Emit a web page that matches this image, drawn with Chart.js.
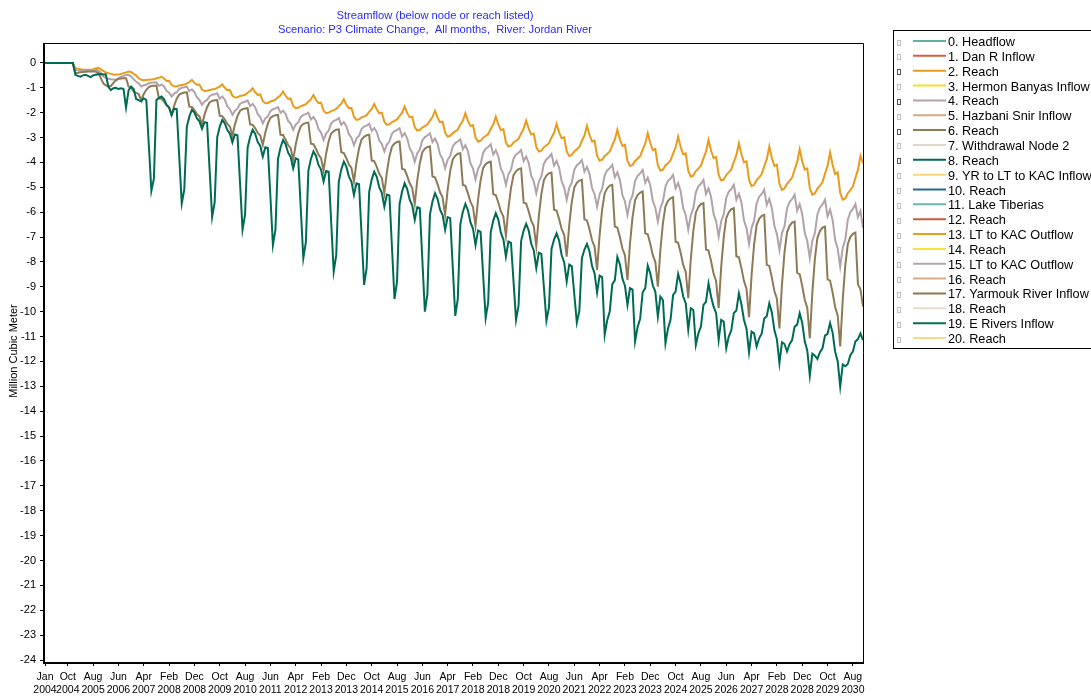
<!DOCTYPE html>
<html>
<head>
<meta charset="utf-8">
<title>Streamflow - Jordan River</title>
<script src="https://cdn.jsdelivr.net/npm/chart.js@4.4.0/dist/chart.umd.min.js"></script>
<style>
    html, body { margin: 0; padding: 0; background: #fff; }
    canvas { display: block; }
</style>
</head>
<body>
<canvas id="chart" width="1091" height="698"></canvas>
<script>
// Monthly values, Jan 2004 .. Dec 2030 (one row per year)
const reach2 = [
    0, 0, 0, 0, 0, 0, 0, 0, 0, 0, 0, 0,
    -0.21, -0.23, -0.25, -0.27, -0.28, -0.28, -0.27, -0.25, -0.22, -0.2, -0.25, -0.32,
    -0.38, -0.41, -0.44, -0.47, -0.48, -0.47, -0.44, -0.42, -0.38, -0.35, -0.36, -0.44,
    -0.5, -0.62, -0.68, -0.7, -0.69, -0.68, -0.67, -0.66, -0.62, -0.6, -0.55, -0.63,
    -0.73, -0.72, -0.89, -0.95, -0.94, -0.91, -0.89, -0.87, -0.82, -0.77, -0.68, -0.8,
    -0.88, -0.87, -1.07, -1.13, -1.12, -1.09, -1.07, -1.05, -1.0, -0.95, -0.86, -1.0,
    -1.1, -1.08, -1.32, -1.39, -1.38, -1.33, -1.31, -1.28, -1.2, -1.14, -1.02, -1.18,
    -1.29, -1.27, -1.54, -1.62, -1.61, -1.55, -1.52, -1.48, -1.38, -1.3, -1.15, -1.32,
    -1.45, -1.43, -1.73, -1.82, -1.8, -1.74, -1.7, -1.66, -1.56, -1.46, -1.29, -1.48,
    -1.62, -1.6, -1.92, -2.02, -2.0, -1.94, -1.9, -1.85, -1.74, -1.64, -1.46, -1.68,
    -1.83, -1.81, -2.17, -2.29, -2.27, -2.19, -2.15, -2.1, -1.97, -1.85, -1.65, -1.87,
    -2.03, -2.0, -2.37, -2.49, -2.47, -2.38, -2.33, -2.27, -2.13, -2.0, -1.76, -2.01,
    -2.19, -2.16, -2.59, -2.72, -2.7, -2.6, -2.54, -2.48, -2.32, -2.18, -1.92, -2.19,
    -2.39, -2.36, -2.81, -2.96, -2.93, -2.82, -2.75, -2.68, -2.49, -2.32, -2.02, -2.32,
    -2.53, -2.5, -3.0, -3.16, -3.13, -3.01, -2.94, -2.86, -2.66, -2.48, -2.16, -2.47,
    -2.7, -2.66, -3.19, -3.36, -3.33, -3.2, -3.13, -3.05, -2.84, -2.65, -2.32, -2.64,
    -2.88, -2.84, -3.39, -3.56, -3.53, -3.39, -3.32, -3.23, -3.0, -2.81, -2.45, -2.79,
    -3.03, -2.99, -3.56, -3.74, -3.7, -3.56, -3.47, -3.38, -3.13, -2.92, -2.53, -2.89,
    -3.16, -3.12, -3.73, -3.93, -3.89, -3.74, -3.66, -3.56, -3.31, -3.09, -2.69, -3.07,
    -3.34, -3.3, -3.94, -4.14, -4.1, -3.94, -3.85, -3.75, -3.49, -3.25, -2.83, -3.22,
    -3.51, -3.46, -4.12, -4.33, -4.29, -4.12, -4.03, -3.92, -3.65, -3.4, -2.96, -3.38,
    -3.68, -3.64, -4.34, -4.57, -4.53, -4.35, -4.25, -4.13, -3.84, -3.57, -3.1, -3.52,
    -3.83, -3.78, -4.5, -4.73, -4.69, -4.51, -4.4, -4.28, -3.98, -3.71, -3.23, -3.68,
    -4.0, -3.95, -4.71, -4.95, -4.9, -4.71, -4.6, -4.47, -4.16, -3.87, -3.36, -3.81,
    -4.14, -4.09, -4.86, -5.1, -5.05, -4.86, -4.74, -4.61, -4.29, -3.99, -3.47, -3.95,
    -4.29, -4.24, -5.04, -5.3, -5.25, -5.05, -4.93, -4.79, -4.45, -4.14, -3.6, -4.09,
    -4.46, -4.4, -5.23, -5.5, -5.45, -5.24, -5.11, -4.97, -4.62, -4.3, -3.74, -4.03
];

const reach4 = [
    0, 0, 0, 0, 0, 0, 0, 0, 0, 0, 0, 0,
    -0.28, -0.3, -0.31, -0.32, -0.32, -0.31, -0.3, -0.29, -0.28, -0.3, -0.38, -0.55,
    -0.6, -0.64, -0.66, -0.67, -0.68, -0.62, -0.56, -0.52, -0.49, -0.48, -0.55, -0.65,
    -0.76, -0.82, -0.95, -0.9, -0.88, -0.82, -0.8, -0.79, -0.78, -0.92, -0.87, -0.95,
    -1.12, -1.2, -1.35, -1.23, -1.18, -1.05, -1.0, -0.98, -0.95, -1.14, -1.06, -1.17,
    -1.39, -1.49, -1.69, -1.55, -1.49, -1.34, -1.28, -1.26, -1.22, -1.44, -1.35, -1.48,
    -1.74, -1.86, -2.09, -1.92, -1.84, -1.65, -1.59, -1.56, -1.51, -1.74, -1.65, -1.79,
    -2.06, -2.18, -2.43, -2.23, -2.15, -1.94, -1.86, -1.83, -1.78, -2.01, -1.92, -2.05,
    -2.33, -2.44, -2.69, -2.48, -2.39, -2.17, -2.09, -2.06, -2.0, -2.28, -2.17, -2.33,
    -2.66, -2.8, -3.1, -2.84, -2.72, -2.44, -2.33, -2.29, -2.22, -2.49, -2.38, -2.54,
    -2.87, -3.01, -3.3, -3.04, -2.93, -2.66, -2.56, -2.52, -2.45, -2.73, -2.62, -2.78,
    -3.12, -3.26, -3.56, -3.28, -3.16, -2.85, -2.74, -2.7, -2.62, -2.96, -2.82, -3.03,
    -3.43, -3.61, -3.97, -3.63, -3.48, -3.11, -2.98, -2.92, -2.83, -3.18, -3.04, -3.25,
    -3.68, -3.86, -4.24, -3.89, -3.74, -3.36, -3.22, -3.16, -3.07, -3.47, -3.31, -3.55,
    -4.04, -4.25, -4.68, -4.26, -4.07, -3.62, -3.45, -3.38, -3.27, -3.68, -3.51, -3.76,
    -4.25, -4.46, -4.9, -4.48, -4.3, -3.85, -3.68, -3.61, -3.5, -3.94, -3.76, -4.02,
    -4.54, -4.77, -5.24, -4.77, -4.56, -4.05, -3.87, -3.79, -3.66, -4.12, -3.94, -4.21,
    -4.76, -5.0, -5.5, -5.02, -4.81, -4.3, -4.11, -4.03, -3.9, -4.37, -4.18, -4.46,
    -5.03, -5.27, -5.78, -5.28, -5.06, -4.52, -4.32, -4.23, -4.1, -4.6, -4.4, -4.7,
    -5.31, -5.57, -6.11, -5.57, -5.33, -4.75, -4.54, -4.44, -4.3, -4.82, -4.61, -4.92,
    -5.55, -5.82, -6.38, -5.82, -5.57, -4.97, -4.74, -4.65, -4.5, -5.05, -4.83, -5.16,
    -5.83, -6.11, -6.71, -6.11, -5.85, -5.2, -4.96, -4.86, -4.7, -5.27, -5.04, -5.38,
    -6.07, -6.36, -6.98, -6.36, -6.09, -5.42, -5.17, -5.07, -4.9, -5.5, -5.26, -5.61,
    -6.33, -6.64, -7.28, -6.63, -6.34, -5.64, -5.38, -5.27, -5.1, -5.71, -5.46, -5.83,
    -6.55, -6.87, -7.52, -6.85, -6.57, -5.85, -5.59, -5.48, -5.3, -5.94, -5.68, -6.07,
    -6.83, -7.16, -7.85, -7.14, -6.84, -6.09, -5.81, -5.69, -5.5, -6.17, -5.9, -6.31,
    -7.11, -7.46, -8.19, -7.43, -7.11, -6.3, -6.0, -5.87, -5.67, -6.2, -5.95, -6.64
];

const reach6 = [
    0, 0, 0, 0, 0, 0, 0, 0, 0, 0, 0, 0,
    -0.41, -0.4, -0.38, -0.37, -0.36, -0.35, -0.35, -0.34, -0.35, -0.4, -0.6, -0.82,
    -0.9, -0.95, -0.93, -0.8, -0.7, -0.64, -0.63, -0.62, -0.62, -0.95, -1.0, -1.15,
    -1.2, -1.26, -1.49, -1.25, -1.08, -0.97, -0.93, -0.92, -0.91, -1.43, -1.44, -1.56,
    -1.7, -1.78, -2.09, -1.72, -1.44, -1.27, -1.22, -1.19, -1.18, -1.76, -1.77, -1.9,
    -2.06, -2.15, -2.49, -2.08, -1.78, -1.59, -1.53, -1.5, -1.49, -2.12, -2.14, -2.28,
    -2.45, -2.56, -2.93, -2.47, -2.14, -1.93, -1.86, -1.83, -1.82, -2.47, -2.49, -2.63,
    -2.81, -2.92, -3.3, -2.8, -2.44, -2.21, -2.14, -2.1, -2.09, -2.89, -2.9, -3.09,
    -3.3, -3.43, -3.9, -3.28, -2.83, -2.55, -2.46, -2.41, -2.4, -3.25, -3.27, -3.46,
    -3.69, -3.83, -4.33, -3.65, -3.15, -2.84, -2.74, -2.69, -2.67, -3.59, -3.62, -3.83,
    -4.08, -4.22, -4.77, -4.0, -3.44, -3.08, -2.97, -2.91, -2.89, -3.92, -3.95, -4.18,
    -4.46, -4.63, -5.24, -4.39, -3.76, -3.37, -3.24, -3.18, -3.16, -4.26, -4.29, -4.54,
    -4.84, -5.02, -5.67, -4.72, -4.03, -3.59, -3.45, -3.38, -3.36, -4.57, -4.6, -4.87,
    -5.2, -5.4, -6.11, -5.09, -4.35, -3.88, -3.73, -3.65, -3.63, -4.91, -4.94, -5.24,
    -5.59, -5.79, -6.55, -5.49, -4.72, -4.23, -4.07, -4.0, -3.97, -5.28, -5.31, -5.61,
    -5.97, -6.18, -6.95, -5.84, -5.03, -4.51, -4.35, -4.27, -4.24, -5.62, -5.65, -5.97,
    -6.34, -6.56, -7.38, -6.16, -5.27, -4.71, -4.53, -4.44, -4.41, -5.9, -5.93, -6.27,
    -6.67, -6.91, -7.79, -6.52, -5.6, -5.01, -4.82, -4.73, -4.7, -6.29, -6.33, -6.69,
    -7.13, -7.38, -8.32, -6.92, -5.89, -5.24, -5.04, -4.93, -4.9, -6.58, -6.62, -7.0,
    -7.46, -7.73, -8.72, -7.26, -6.2, -5.52, -5.31, -5.21, -5.17, -6.85, -6.89, -7.27,
    -7.73, -8.0, -8.99, -7.52, -6.44, -5.76, -5.54, -5.44, -5.4, -7.19, -7.23, -7.63,
    -8.12, -8.4, -9.46, -7.89, -6.75, -6.02, -5.79, -5.68, -5.64, -7.5, -7.54, -7.96,
    -8.47, -8.76, -9.86, -8.21, -7.01, -6.24, -6.0, -5.88, -5.84, -7.77, -7.81, -8.25,
    -8.77, -9.08, -10.22, -8.53, -7.3, -6.52, -6.27, -6.15, -6.11, -8.12, -8.16, -8.62,
    -9.17, -9.48, -10.67, -8.91, -7.62, -6.81, -6.55, -6.42, -6.38, -8.44, -8.49, -8.96,
    -9.52, -9.85, -11.07, -9.23, -7.88, -7.03, -6.76, -6.62, -6.58, -8.7, -8.75, -9.23,
    -9.81, -10.15, -11.4, -9.52, -8.15, -7.28, -7.0, -6.87, -6.82, -8.9, -9.1, -9.8
];

const reach8 = [
    0, 0, 0, 0, 0, 0, 0, 0, 0, 0, 0, 0,
    -0.48, -0.52, -0.55, -0.5, -0.48, -0.52, -0.57, -0.5, -0.48, -0.46, -0.45, -0.47,
    -0.46, -0.95, -1.09, -1.02, -1.0, -1.05, -1.02, -1.05, -1.8, -1.1, -0.95, -1.05,
    -1.45, -1.5, -1.55, -1.42, -1.49, -3.3, -5.15, -4.65, -1.49, -1.4, -1.35, -1.45,
    -1.69, -1.8, -2.1, -1.84, -1.86, -3.76, -5.65, -5.09, -2.57, -2.15, -1.89, -2.0,
    -2.23, -2.35, -2.65, -2.38, -2.41, -4.3, -6.2, -5.61, -2.99, -2.56, -2.29, -2.43,
    -2.7, -2.84, -3.2, -2.88, -2.91, -4.8, -6.7, -6.1, -3.41, -2.97, -2.69, -2.85,
    -3.18, -3.34, -3.77, -3.39, -3.42, -5.37, -7.32, -6.69, -3.86, -3.4, -3.1, -3.27,
    -3.61, -3.78, -4.24, -3.84, -3.88, -5.87, -7.85, -7.21, -4.33, -3.86, -3.56, -3.74,
    -4.1, -4.29, -4.77, -4.35, -4.38, -6.39, -8.39, -7.73, -4.77, -4.28, -3.97, -4.17,
    -4.57, -4.77, -5.31, -4.84, -4.88, -6.9, -8.92, -8.24, -5.19, -4.69, -4.37, -4.58,
    -5.0, -5.22, -5.78, -5.29, -5.33, -7.41, -9.49, -8.79, -5.68, -5.17, -4.84, -5.06,
    -5.5, -5.72, -6.31, -5.8, -5.84, -7.92, -10.0, -9.29, -6.1, -5.57, -5.24, -5.46,
    -5.9, -6.12, -6.71, -6.2, -6.24, -8.2, -10.17, -9.49, -6.48, -5.98, -5.67, -5.92,
    -6.41, -6.66, -7.32, -6.74, -6.79, -8.52, -10.26, -9.63, -6.8, -6.34, -6.04, -6.3,
    -6.83, -7.09, -7.79, -7.18, -7.23, -8.78, -10.33, -9.75, -7.16, -6.74, -6.47, -6.74,
    -7.27, -7.54, -8.25, -7.63, -7.68, -9.02, -10.36, -9.83, -7.48, -7.1, -6.85, -7.14,
    -7.72, -8.01, -8.79, -8.11, -8.17, -9.3, -10.44, -9.97, -7.85, -7.5, -7.28, -7.57,
    -8.16, -8.45, -9.23, -8.55, -8.61, -10.93, -10.34, -9.99, -8.9, -8.74, -7.8, -8.09,
    -8.67, -8.96, -9.73, -9.05, -9.11, -11.2, -10.62, -10.28, -9.22, -9.06, -8.15, -8.46,
    -8.95, -9.19, -10.2, -9.39, -9.53, -11.27, -10.67, -10.33, -9.33, -9.19, -8.48, -8.86,
    -9.39, -9.66, -10.73, -9.86, -9.93, -11.34, -10.87, -10.6, -9.73, -9.6, -8.86, -9.39,
    -9.8, -10.06, -11.14, -10.33, -10.4, -11.47, -11.0, -10.75, -10.05, -9.95, -9.26, -9.7,
    -10.33, -10.68, -11.63, -10.8, -10.87, -11.4, -11.07, -10.88, -10.27, -10.18, -9.66, -10.02,
    -10.74, -11.11, -12.07, -11.23, -11.3, -11.6, -11.31, -11.14, -10.6, -10.52, -10.06, -10.44,
    -11.19, -11.57, -12.57, -11.69, -11.77, -11.9, -11.63, -11.47, -10.96, -10.89, -10.46, -10.84,
    -11.61, -11.99, -13.01, -12.12, -12.19, -12.1, -11.75, -11.6, -11.2, -11.1, -10.87, -11.14
];

const seriesNames = [
    '0. Headflow', '1. Dan R Inflow', '2. Reach', '3. Hermon Banyas Inflow', '4. Reach',
    '5. Hazbani Snir Inflow', '6. Reach', '7. Withdrawal Node 2', '8. Reach',
    '9. YR to LT to KAC Inflow', '10. Reach', '11. Lake Tiberias', '12. Reach',
    '13. LT to KAC Outflow', '14. Reach', '15. LT to KAC Outflow', '16. Reach',
    '17. Yarmouk River Inflow', '18. Reach', '19. E Rivers Inflow', '20. Reach'
];
const seriesColors = [
    '#5fb0a6', '#d2603c', '#e99b1c', '#f4e02a', '#b3a3a9',
    '#d2a985', '#8e7a55', '#e2d7c6', '#006b54',
    '#f6d775', '#1d6c8a', '#64bab2', '#c95c3c',
    '#e89c18', '#f4e63a', '#b4a6b0', '#d6ad8a',
    '#8d7752', '#e6ddcf', '#02705a', '#f7d985'
];
// only these rows carry a line in the picture
const seriesValues = [null, null, reach2, null, reach4, null, reach6, null, reach8];

const xTickIdx = [0, 9, 19, 29, 39, 49, 59, 69, 79, 89, 99, 109, 119, 129, 139, 149, 159,
    169, 179, 189, 199, 209, 219, 229, 239, 249, 259, 269, 279, 289, 299, 309, 319];
const xTickLabels = ['Jan 2004', 'Oct 2004', 'Aug 2005', 'Jun 2006', 'Apr 2007', 'Feb 2008',
    'Dec 2008', 'Oct 2009', 'Aug 2010', 'Jun 2011', 'Apr 2012', 'Feb 2013', 'Dec 2013',
    'Oct 2014', 'Aug 2015', 'Jun 2016', 'Apr 2017', 'Feb 2018', 'Dec 2018', 'Oct 2019',
    'Aug 2020', 'Jun 2021', 'Apr 2022', 'Feb 2023', 'Dec 2023', 'Oct 2024', 'Aug 2025',
    'Jun 2026', 'Apr 2027', 'Feb 2028', 'Dec 2028', 'Oct 2029', 'Aug 2030'];
const yTicks = [0, -1, -2, -3, -4, -5, -6, -7, -8, -9, -10, -11, -12, -13, -14, -15,
    -16, -17, -18, -19, -20, -21, -22, -23, -24];

const titleLines = ['Streamflow (below node or reach listed)',
    'Scenario: P3 Climate Change,  All months,  River: Jordan River'];
const yTitle = 'Million Cubic Meter';

const FONT = '"Liberation Sans", Arial, sans-serif';

function toPoints(values) {
    return values ? values.map((v, i) => ({ x: i, y: v })) : [];
}

// draw order: green on top, then brown, gray, orange
const drawOrder = { 2: 3, 4: 2, 6: 1, 8: 0 };

const datasets = seriesNames.map((name, i) => ({
    label: name,
    data: toPoints(seriesValues[i]),
    borderColor: seriesColors[i],
    backgroundColor: seriesColors[i],
    borderWidth: 2,
    pointRadius: 0,
    tension: 0,
    fill: false,
    order: drawOrder[i] !== undefined ? drawOrder[i] : 10
}));

const framePlugin = {
    id: 'frame',
    afterDatasetsDraw(chart) {
        const { ctx, chartArea: a } = chart;
        ctx.save();
        ctx.strokeStyle = '#000';
        ctx.lineWidth = 1;
        ctx.beginPath();
        ctx.moveTo(a.left, a.top + 0.5);
        ctx.lineTo(a.right + 0.5, a.top + 0.5);
        ctx.lineTo(a.right + 0.5, a.bottom);
        ctx.stroke();
        ctx.lineWidth = 2;
        ctx.beginPath();
        ctx.moveTo(a.left - 1, a.top);
        ctx.lineTo(a.left - 1, a.bottom + 1);
        ctx.lineTo(a.right + 1, a.bottom + 1);
        ctx.stroke();
        ctx.restore();
    }
};

const textPlugin = {
    id: 'texts',
    afterDraw(chart) {
        const ctx = chart.ctx;
        ctx.save();
        // title
        ctx.font = '11.2px ' + FONT;
        ctx.fillStyle = '#2a2aff';
        ctx.textAlign = 'center';
        ctx.textBaseline = 'middle';
        ctx.fillText(titleLines[0], 435, 15.5);
        ctx.fillText(titleLines[1], 435, 29.5);

        // y axis title
        ctx.fillStyle = '#000';
        ctx.font = '11px ' + FONT;
        ctx.translate(14, 351);
        ctx.rotate(-Math.PI / 2);
        ctx.fillText(yTitle, 0, 0);
        ctx.restore();

        // legend box
        ctx.save();
        ctx.strokeStyle = '#000';
        ctx.lineWidth = 1;
        ctx.strokeRect(893.5, 30.5, 400, 318);
        ctx.font = '12.7px ' + FONT;
        ctx.textAlign = 'left';
        ctx.textBaseline = 'middle';
        chart.data.datasets.forEach((ds, i) => {
            const yc = 42.5 + i * 14.85;
            ctx.strokeStyle = seriesValues[i] ? '#555' : '#c0c0c0';
            ctx.lineWidth = 1;
            ctx.strokeRect(897.5, Math.round(yc) - 2.5, 3, 5);
            ctx.strokeStyle = ds.borderColor;
            ctx.lineWidth = 2;
            ctx.beginPath();
            ctx.moveTo(913, yc - 1.5);
            ctx.lineTo(946, yc - 1.5);
            ctx.stroke();
            ctx.fillStyle = '#000';
            ctx.fillText(ds.label, 948, yc);
        });
        ctx.restore();
    }
};

new Chart(document.getElementById('chart'), {
    type: 'line',
    data: { datasets },
    options: {
        responsive: false,
        animation: false,
        events: [],
        layout: { padding: { left: 0, right: 228, top: 43, bottom: 0 } },
        plugins: {
            legend: { display: false },
            title: { display: false },
            tooltip: { enabled: false }
        },
        scales: {
            x: {
                type: 'linear',
                min: 0,
                max: 323,
                afterBuildTicks(axis) {
                    axis.ticks = xTickIdx.map(v => ({ value: v }));
                },
                afterFit(axis) {
                    axis.height = 36;
                },
                ticks: {
                    autoSkip: false,
                    maxRotation: 0,
                    padding: 5,
                    color: '#000',
                    font: { family: FONT, size: 10.5 },
                    callback(value) {
                        const k = xTickIdx.indexOf(value);
                        return k >= 0 ? xTickLabels[k].split(' ') : '';
                    }
                },
                grid: {
                    drawOnChartArea: false,
                    drawTicks: true,
                    tickLength: 4,
                    color: '#000'
                },
                border: { display: false }
            },
            y: {
                type: 'linear',
                min: -24.08,
                max: 0.8,
                afterBuildTicks(axis) {
                    axis.ticks = yTicks.map(v => ({ value: v }));
                },
                afterFit(axis) {
                    axis.width = 45;
                },
                ticks: {
                    padding: 4,
                    color: '#000',
                    font: { family: FONT, size: 11 },
                    callback: value => String(value)
                },
                grid: {
                    drawOnChartArea: false,
                    drawTicks: true,
                    tickLength: 5,
                    color: '#000'
                },
                border: { display: false }
            }
        }
    },
    plugins: [framePlugin, textPlugin]
});
</script>
</body>
</html>
